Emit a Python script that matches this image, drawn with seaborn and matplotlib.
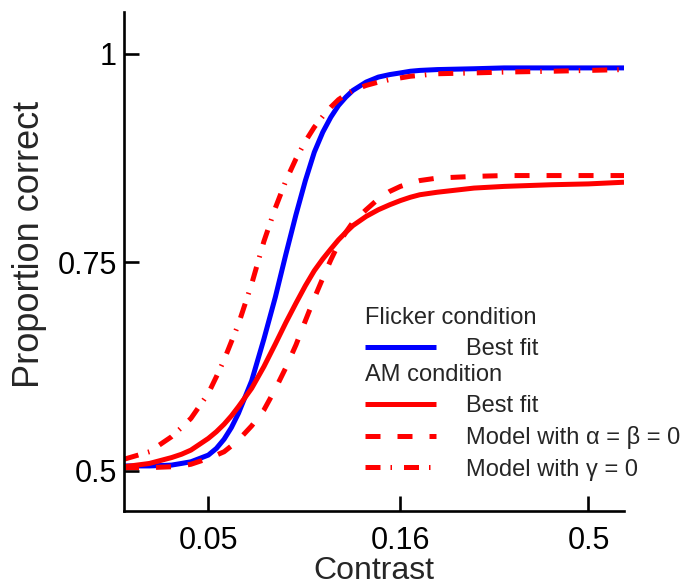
import matplotlib
matplotlib.use("Agg")
import matplotlib.pyplot as plt
import pandas as pd
import seaborn as sns
from matplotlib.lines import Line2D

# Stimulus contrast (log-spaced axis)
contrast = [0.03, 0.035, 0.04, 0.0425, 0.045, 0.05, 0.0525, 0.055, 0.0575, 0.06,
            0.065, 0.07, 0.075, 0.08, 0.085, 0.09, 0.095, 0.10, 0.105, 0.11,
            0.115, 0.12, 0.13, 0.14, 0.15, 0.16, 0.17, 0.18, 0.20, 0.25,
            0.30, 0.40, 0.50, 0.62]

# Flicker condition, best-fitting psychometric function
flicker_best = [0.506, 0.506, 0.507, 0.509, 0.511, 0.519, 0.527, 0.538, 0.552, 0.569,
                0.608, 0.658, 0.708, 0.760, 0.807, 0.848, 0.882, 0.906, 0.924, 0.938,
                0.948, 0.956, 0.966, 0.972, 0.975, 0.977, 0.979, 0.980, 0.981, 0.982,
                0.983, 0.983, 0.983, 0.983]

# AM condition, best-fitting psychometric function
am_best = [0.505, 0.509, 0.516, 0.520, 0.525, 0.539, 0.547, 0.556, 0.566, 0.577,
           0.599, 0.625, 0.652, 0.678, 0.701, 0.722, 0.740, 0.754, 0.766, 0.777,
           0.786, 0.794, 0.805, 0.813, 0.819, 0.824, 0.828, 0.831, 0.834, 0.839,
           0.841, 0.843, 0.844, 0.846]

# Model predictions
model_ab0 = [0.504, 0.504, 0.505, 0.506, 0.508, 0.515, 0.519, 0.523, 0.530, 0.537,
             0.554, 0.573, 0.598, 0.624, 0.651, 0.680, 0.707, 0.731, 0.753, 0.772,
             0.786, 0.798, 0.813, 0.826, 0.835, 0.841, 0.845, 0.848, 0.851, 0.853,
             0.854, 0.854, 0.854, 0.854]
model_g0 = [0.514, 0.523, 0.541, 0.552, 0.563, 0.593, 0.613, 0.633, 0.655, 0.676,
            0.724, 0.775, 0.815, 0.848, 0.874, 0.895, 0.912, 0.925, 0.936, 0.945,
            0.951, 0.956, 0.962, 0.966, 0.969, 0.971, 0.973, 0.974, 0.976, 0.977,
            0.978, 0.979, 0.980, 0.981]

xticks = [0.05, 0.16, 0.5]
xticklabels = ["0.05", "0.16", "0.5"]
yticks = [0.5, 0.75, 1.0]
yticklabels = ["0.5", "0.75", "1"]

sns.set_style("ticks")
plt.rcParams["font.family"] = ["Liberation Sans", "DejaVu Sans"]

fig = plt.figure(figsize=(6.82, 5.86), dpi=100)
ax = fig.add_axes([124 / 682, 1 - 511 / 586, 500 / 682, 499 / 586])

LW = 3.6
BLUE = "#0000ff"
RED = "#ff0000"
dashed = (0, (3.0, 3.4))
dashdot = (0, (3.0, 2.0, 0.3, 2.4))

df = pd.DataFrame({"contrast": contrast, "flicker_best": flicker_best,
                   "am_best": am_best, "model_ab0": model_ab0,
                   "model_g0": model_g0})

sns.lineplot(data=df, x="contrast", y="flicker_best", ax=ax, color=BLUE,
             lw=LW, solid_capstyle="butt", solid_joinstyle="round")
sns.lineplot(data=df, x="contrast", y="am_best", ax=ax, color=RED,
             lw=LW, solid_capstyle="butt", solid_joinstyle="round")
sns.lineplot(data=df, x="contrast", y="model_ab0", ax=ax, color=RED,
             lw=LW, linestyle=dashed, dash_capstyle="butt")
sns.lineplot(data=df, x="contrast", y="model_g0", ax=ax, color=RED,
             lw=LW, linestyle=dashdot, dash_capstyle="butt")

ax.set_xscale("log")
ax.set_xlim(0.03, 0.62)
ax.set_ylim(0.452, 1.05)
ax.set_xticks(xticks)
ax.set_xticklabels(xticklabels)
ax.minorticks_off()
ax.set_yticks(yticks)
ax.set_yticklabels(yticklabels)
ax.tick_params(direction="in", length=11, width=1.9, labelsize=22,
               colors="black")
ax.tick_params(axis="x", pad=11)
ax.tick_params(axis="y", pad=5)
ax.set_xlabel("Contrast", fontsize=23, labelpad=0)
ax.set_ylabel("Proportion correct", fontsize=26)
ax.yaxis.set_label_coords(-0.154, 0.535)
for side in ("left", "bottom"):
    ax.spines[side].set_linewidth(1.9)
    ax.spines[side].set_color("black")
sns.despine(ax=ax)

leg_kw = dict(frameon=False, fontsize=17, title_fontsize=17, alignment="left",
              handlelength=3.0, handletextpad=1.27, labelspacing=0.39,
              borderpad=0, borderaxespad=0, loc="upper left",
              bbox_transform=fig.transFigure)

flicker_handles = [Line2D([], [], color=BLUE, lw=LW, solid_capstyle="butt")]
leg1 = ax.legend(flicker_handles, ["Best fit"], title="Flicker condition",
                 bbox_to_anchor=(365 / 682, 1 - 307 / 586), **leg_kw)
ax.add_artist(leg1)

am_handles = [
    Line2D([], [], color=RED, lw=LW, solid_capstyle="butt"),
    Line2D([], [], color=RED, lw=LW, linestyle=dashed, dash_capstyle="butt"),
    Line2D([], [], color=RED, lw=LW, linestyle=dashdot, dash_capstyle="butt"),
]
ax.legend(am_handles,
          ["Best fit", "Model with \u03b1 = \u03b2 = 0", "Model with \u03b3 = 0"],
          title="AM condition", bbox_to_anchor=(365 / 682, 1 - 364 / 586),
          **leg_kw)

fig.savefig("out.png", dpi=100)
